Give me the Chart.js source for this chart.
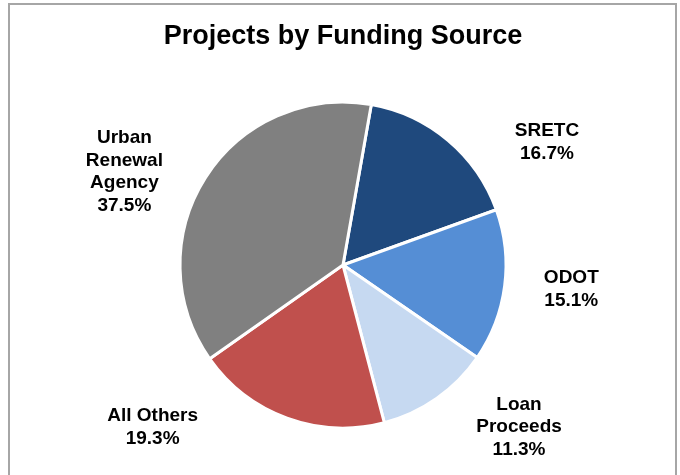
<!DOCTYPE html>
<html>
<head>
<meta charset="utf-8">
<script src="https://cdn.jsdelivr.net/npm/chart.js@4/dist/chart.umd.min.js"></script>
<style>
  html, body { margin: 0; padding: 0; background: #fff; }
  #wrap { position: relative; width: 680px; height: 475px; overflow: hidden; }
  #frame {
    position: absolute; left: 8px; top: 3px; width: 669px; height: 500px;
    border: 2px solid #a6a6a6; box-sizing: border-box;
  }
  canvas { position: absolute; left: 0; top: 0; }
</style>
</head>
<body>
<div id="wrap">
  <div id="frame"></div>
  <canvas id="pieChart" width="680" height="475"></canvas>
</div>
<script>
// data
const sources = [['SRETC'], ['ODOT'], ['Loan', 'Proceeds'], ['All Others'], ['Urban', 'Renewal', 'Agency']];
const shares = [16.7, 15.1, 11.3, 19.3, 37.5];
const colors = ['#1f497d', '#558ed5', '#c6d9f1', '#c0504d', '#808080'];

// label nudges from the mid-angle anchor (px)
const labelNudge = [[57, 52], [2, -5], [45, -25], [-112, -52], [-26, 29]];

const labelPlugin = {
    id: 'outsideLabels',
    afterDatasetsDraw(chart) {
        const ctx = chart.ctx;
        const meta = chart.getDatasetMeta(0);
        ctx.save();
        ctx.font = 'bold 19px "Liberation Sans", Arial, sans-serif';
        ctx.fillStyle = '#000';
        ctx.textAlign = 'center';
        ctx.textBaseline = 'middle';
        meta.data.forEach((arc, i) => {
            const p = arc.getProps(['x', 'y', 'startAngle', 'endAngle', 'outerRadius'], true);
            const mid = (p.startAngle + p.endAngle) / 2;
            const ax = p.x + Math.cos(mid) * p.outerRadius * 1.4 + labelNudge[i][0];
            const ay = p.y + Math.sin(mid) * p.outerRadius * 1.4 + labelNudge[i][1];
            const lines = sources[i].concat([shares[i].toFixed(1) + '%']);
            const lh = 22.5;
            const top = ay - (lines.length - 1) * lh / 2;
            lines.forEach((t, k) => ctx.fillText(t, ax, top + k * lh));
        });
        ctx.restore();
    }
};

new Chart(document.getElementById('pieChart').getContext('2d'), {
    type: 'pie',
    data: {
        labels: sources.map(s => s.join(' ')),
        datasets: [{
            data: shares,
            backgroundColor: colors,
            borderColor: '#ffffff',
            borderWidth: 3
        }]
    },
    options: {
        responsive: false,
        animation: false,
        rotation: 10,
        radius: 163,
        layout: { padding: { top: 0, bottom: 47, left: 10, right: 4 } },
        plugins: {
            legend: { display: false },
            tooltip: { enabled: false },
            title: {
                display: true,
                text: 'Projects by Funding Source',
                color: '#000',
                font: { family: '"Liberation Sans", Arial, sans-serif', size: 27, weight: 'bold' },
                padding: { top: 20, bottom: 49.6 }
            }
        }
    },
    plugins: [labelPlugin]
});
</script>
</body>
</html>
